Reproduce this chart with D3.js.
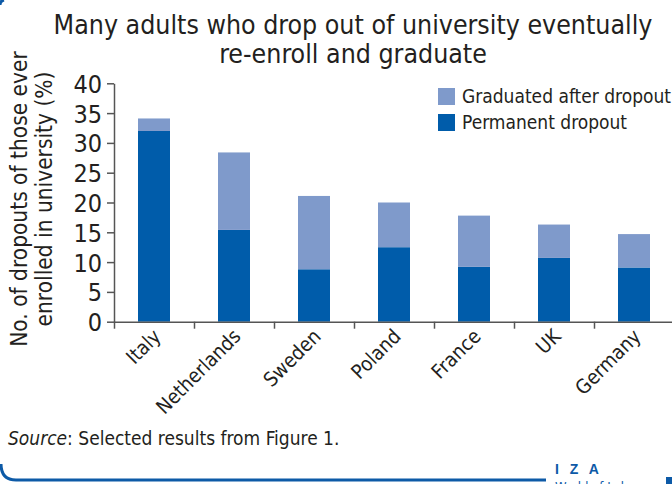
<!DOCTYPE html>
<html>
<head>
<meta charset="utf-8">
<style>
  body { margin: 0; background: #fff; }
  svg { display: block; }
  text { fill: #231f20; font-family: "DejaVu Sans Condensed", "Liberation Sans Narrow", sans-serif; }
</style>
</head>
<body>
<svg width="672" height="484"></svg>
<script src="https://cdn.jsdelivr.net/npm/d3@7/dist/d3.min.js"></script>
<script>
var countries = ["Italy", "Netherlands", "Sweden", "Poland", "France", "UK", "Germany"];
var permanent = [32.0, 15.4, 8.8, 12.5, 9.2, 10.7, 9.1];
var graduated = [2.1, 13.0, 12.3, 7.5, 8.6, 5.6, 5.6];
var seriesNames = ["Graduated after dropout", "Permanent dropout"];
var yTicks = [0, 5, 10, 15, 20, 25, 30, 35, 40];

var svg = d3.select("svg"),
  dark = "#005caa",
  light = "#7f9acb",
  axisColor = "#555",
  izaBlue = "#0d5aa7";

var y = d3.scaleLinear().domain([0, 40]).range([321.7, 83.3]);
var x = d3.scaleBand().domain(countries).range([114, 674]).paddingInner(0.6).paddingOuter(0.3);
var slot = d3.scaleLinear().domain([0, countries.length]).range([114, 674]);

// title
svg.append("text")
  .attr("text-anchor", "middle")
  .attr("font-size", "26.5px")
  .selectAll("tspan")
  .data(["Many adults who drop out of university eventually", "re-enroll and graduate"])
  .enter().append("tspan")
  .attr("x", 353)
  .attr("y", function(d, i) { return 34 + i * 29; })
  .text(function(d) { return d; });

// bars
var rows = countries.map(function(c, i) {
  return { country: c, permanent: permanent[i], graduated: graduated[i] };
});
var stack = d3.stack().keys(["permanent", "graduated"])(rows);

svg.append("g").selectAll("g")
  .data(stack)
  .enter().append("g")
  .attr("fill", function(d) { return d.key == "permanent" ? dark : light; })
  .selectAll("rect")
  .data(function(d) { return d; })
  .enter().append("rect")
  .attr("x", function(d) { return x(d.data.country); })
  .attr("width", x.bandwidth())
  .attr("y", function(d) { return y(d[1]); })
  .attr("height", function(d) { return y(d[0]) - y(d[1]); });

// y axis
var yAxis = svg.append("g")
  .attr("transform", "translate(114,0)")
  .call(d3.axisLeft(y).tickValues(yTicks).tickSize(7).tickSizeOuter(0).tickPadding(5));
yAxis.selectAll("text").attr("font-size", "25px").attr("fill", "#231f20").attr("dy", "0.36em");

// x axis, ticks between the bars
svg.append("g")
  .attr("transform", "translate(0," + y(0) + ")")
  .call(d3.axisBottom(slot).tickValues(d3.range(0, countries.length + 1)).tickSize(7).tickSizeOuter(0).tickFormat(""));

svg.selectAll(".domain, .tick line").attr("stroke", axisColor).attr("stroke-width", 1.5);

// x labels
svg.append("g").selectAll("text")
  .data(countries)
  .enter().append("text")
  .attr("text-anchor", "end")
  .attr("font-size", "20px")
  .attr("transform", function(d) {
    return "translate(" + (x(d) + x.bandwidth() / 2 + 8) + "," + (y(0) + 16) + ") rotate(-45)";
  })
  .text(function(d) { return d; });

// y label
svg.append("text")
  .attr("text-anchor", "middle")
  .attr("font-size", "22.5px")
  .attr("transform", "translate(0,199) rotate(-90)")
  .selectAll("tspan")
  .data(["No. of dropouts of those ever", "enrolled in university (%)"])
  .enter().append("tspan")
  .attr("x", 0)
  .attr("y", function(d, i) { return 27 + i * 25; })
  .text(function(d) { return d; });

// legend
var legend = svg.append("g").selectAll("g")
  .data(seriesNames)
  .enter().append("g")
  .attr("transform", function(d, i) { return "translate(438," + (88 + i * 26) + ")"; });
legend.append("rect")
  .attr("width", 17).attr("height", 17)
  .attr("fill", function(d, i) { return i == 0 ? light : dark; });
legend.append("text")
  .attr("x", 24).attr("y", 15)
  .attr("font-size", "19px")
  .text(function(d) { return d; });

// source
var src = svg.append("text").attr("x", 8).attr("y", 445).attr("font-size", "19px");
src.append("tspan").attr("font-style", "italic").text("Source");
src.append("tspan").text(": Selected results from Figure 1.");

// frame + logo
svg.append("path")
  .attr("d", "M1,464 Q1,480 16,480 L546,480")
  .attr("fill", "none").attr("stroke", izaBlue).attr("stroke-width", 3);
svg.append("path")
  .attr("d", "M0,5 Q0,1 4,0")
  .attr("fill", "none").attr("stroke", izaBlue).attr("stroke-width", 3);
svg.append("rect").attr("x", 666).attr("y", 477).attr("width", 6).attr("height", 7).attr("fill", izaBlue);
svg.append("text")
  .attr("x", 555).attr("y", 474)
  .attr("font-size", "14px")
  .attr("font-weight", "bold")
  .attr("letter-spacing", "3.5px")
  .style("fill", izaBlue)
  .style("font-family", "'Liberation Sans', sans-serif")
  .text("I Z A");
svg.append("text")
  .attr("x", 555).attr("y", 491)
  .attr("font-size", "13px")
  .style("fill", izaBlue)
  .text("World of Labor");
</script>
</body>
</html>
